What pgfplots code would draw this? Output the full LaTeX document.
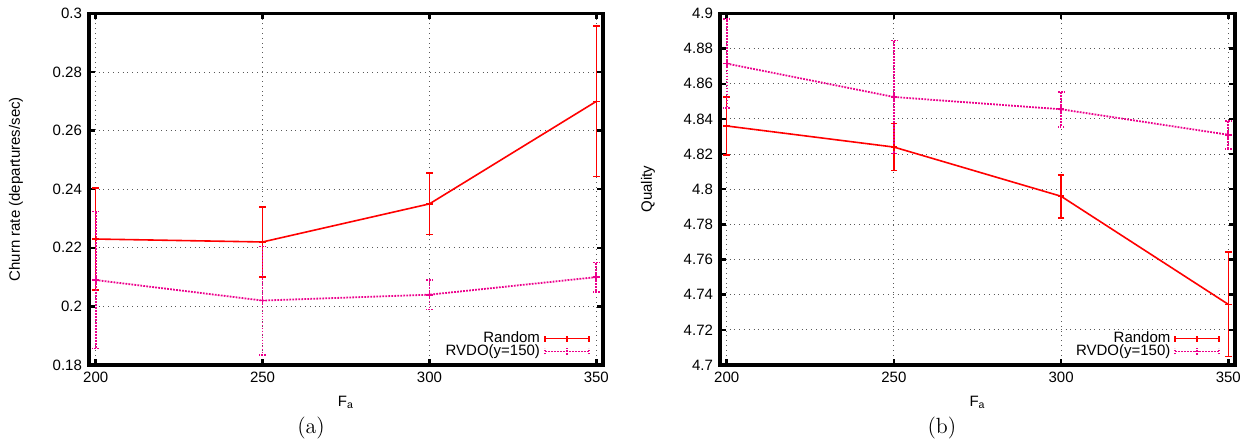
\documentclass[border=0pt]{standalone}
\usepackage{fontspec}
\usepackage{pgfplots}
\pgfplotsset{compat=1.18}
\newfontfamily\hv{Liberation Sans}
\newcommand{\tf}{\hv\fontsize{7.5}{9}\selectfont}
\tikzset{mdot/.style={dash pattern=on 0.9pt off 0.6pt}}
\pgfplotsset{
  gp/.style={
    scale only axis,
    clip=false,
    axis on top=false,
    enlargelimits=false,
    xmin=198, xmax=352,
    xtick={200,250,300,350},
    axis line style={line width=1.6pt, black},
    tick style={line width=1.2pt, black},
    major tick length=3pt,
    tick align=inside,
    grid=major,
    major grid style={black!65, dotted, line width=0.5pt},
    ticklabel style={font=\tf},
    /pgf/number format/assume math mode=true,
    yticklabel style={/pgf/number format/.cd, fixed, precision=2},
    label style={font=\tf},
    xlabel={F\textsubscript{a}},
    xlabel style={at={(axis description cs:0.5,-0.1195)}, anchor=base},
    legend plot pos=right,
    legend cell align=right,
    legend style={draw=none, fill=white, font=\tf, inner sep=0pt,
      nodes={inner sep=1pt}, column sep=1pt,
      row sep=-2.5pt, anchor=south east},
  },
  rnd/.style={red, solid, line width=0.8pt, mark=+, mark size=1.6pt,
    mark options={red, solid},
    error bars/y dir=both, error bars/y explicit,
    error bars/error bar style={red, solid, line width=0.8pt},
    error bars/error mark options={rotate=90, mark size=1.6pt, red, solid, line width=0.8pt},
    legend image code/.code={
      \draw[red, line width=0.8pt] (0pt,0pt)--(22pt,0pt);
      \draw[red, line width=0.8pt] (0pt,-1.5pt)--(0pt,1.5pt);
      \draw[red, line width=0.8pt] (22pt,-1.5pt)--(22pt,1.5pt);
      \draw[red, line width=0.8pt] (11pt,-1.5pt)--(11pt,1.5pt);
    }},
  rvdo/.style={magenta, mdot, line width=0.9pt, mark=+, mark size=1.6pt,
    mark options={magenta, solid},
    error bars/y dir=both, error bars/y explicit,
    error bars/error bar style={magenta, mdot, line width=0.9pt},
    error bars/error mark options={rotate=90, mark size=1.6pt, magenta, mdot, line width=0.8pt},
    legend image code/.code={
      \draw[magenta, mdot, line width=0.9pt] (0pt,0pt)--(22pt,0pt);
      \draw[magenta, mdot, line width=0.8pt] (0pt,-1.5pt)--(0pt,1.5pt);
      \draw[magenta, mdot, line width=0.8pt] (22pt,-1.5pt)--(22pt,1.5pt);
      \draw[magenta, line width=0.8pt] (11pt,-1.6pt)--(11pt,1.6pt) (9.4pt,0pt)--(12.6pt,0pt);
    }},
}
\begin{document}
\begin{tikzpicture}
\path[use as bounding box] (0pt,0pt) rectangle (624.5pt,221pt);
\begin{axis}[gp, name=A,
  at={(44.5pt,38.5pt)}, anchor=south west,
  width=257pt, height=175.75pt,
  ymin=0.18, ymax=0.3,
  ytick={0.18,0.2,0.22,0.24,0.26,0.28,0.3},
  ylabel={Churn rate (departures/sec)},
  ylabel style={at={(axis description cs:-0.142,0.5)}, anchor=center},
  legend style={at={(axis description cs:0.975,0.012)}},
]
\addplot[rnd] coordinates {
  (200,0.223) +- (0,0.0175)
  (250,0.222) +- (0,0.012)
  (300,0.235) +- (0,0.0105)
  (350,0.270) +- (0,0.0257)
};
\addlegendentry{Random}
\addplot[rvdo] coordinates {
  (200,0.209) +- (0,0.0234)
  (250,0.202) +- (0,0.0185)
  (300,0.204) +- (0,0.005)
  (350,0.210) +- (0,0.005)
};
\addlegendentry{RVDO(y=150)}
\node[anchor=base, font=\fontsize{11}{13}\selectfont] at (axis description cs:0.432,-0.1935) {(a)};
\end{axis}
\draw[line width=1.6pt, black, line cap=rect] (A.south west) rectangle (A.north east);
\begin{axis}[gp, name=B,
  at={(360pt,38.5pt)}, anchor=south west,
  width=257.5pt, height=175.75pt,
  ymin=4.7, ymax=4.9,
  ytick={4.7,4.72,4.74,4.76,4.78,4.8,4.82,4.84,4.86,4.88,4.9},
  ylabel={Quality},
  ylabel style={at={(axis description cs:-0.14,0.5)}, anchor=center},
  legend style={at={(axis description cs:0.972,0.012)}},
]
\addplot[rnd] coordinates {
  (200,4.836) +- (0,0.0165)
  (250,4.824) +- (0,0.0133)
  (300,4.796) +- (0,0.0122)
  (350,4.7345) +- (0,0.0297)
};
\addlegendentry{Random}
\addplot[rvdo] coordinates {
  (200,4.8715) +- (0,0.0252)
  (250,4.8525) +- (0,0.0322)
  (300,4.8455) +- (0,0.010)
  (350,4.831) +- (0,0.008)
};
\addlegendentry{RVDO(y=150)}
\node[anchor=base, font=\fontsize{11}{13}\selectfont] at (axis description cs:0.431,-0.1935) {(b)};
\end{axis}
\draw[line width=1.6pt, black, line cap=rect] (B.south west) rectangle (B.north east);
\end{tikzpicture}
\end{document}
